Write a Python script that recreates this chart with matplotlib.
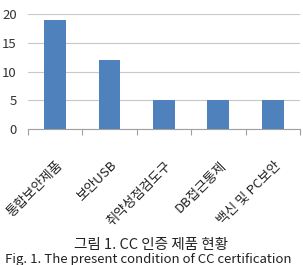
import matplotlib.pyplot as plt
import numpy as np

plt.rcParams["font.family"] = ["Noto Sans CJK KR", "DejaVu Sans"]

categories = ["통합보안제품", "보안USB", "취약성점검도구", "DB접근통제", "백신 및 PC보안"]
counts = [19, 12, 5, 5, 5]
yticks = [0, 5, 10, 15, 20]

fig = plt.figure(figsize=(3.03, 2.65), dpi=100)
ax = fig.add_axes([0.092, 0.513, 0.898, 0.434])

x = np.arange(len(categories))
ax.bar(x, counts, width=0.4, color="#4F81BD", zorder=3)

ax.set_xlim(-0.5, len(categories) - 0.5)
ax.set_ylim(0, 20)
ax.set_yticks(yticks)
ax.set_yticklabels([str(v) for v in yticks], fontsize=9.5, color="#333333")
ax.yaxis.grid(True, color="#C8C8C8", linewidth=0.8, zorder=0)
ax.tick_params(axis="y", length=0, pad=8)

# category separators as ticks on the x axis
ax.set_xticks(np.arange(len(categories) + 1) - 0.5)
ax.set_xticklabels([])
ax.tick_params(axis="x", length=4, color="#A0A0A0", width=0.8)
for i, name in enumerate(categories):
    ax.text(i + 0.02, -5.2, name, rotation=45, ha="right", va="top",
            rotation_mode="anchor", fontsize=9.5, color="#222222")

for side in ["top", "right", "left"]:
    ax.spines[side].set_visible(False)
ax.spines["bottom"].set_color("#A0A0A0")
ax.spines["bottom"].set_linewidth(0.8)

fig.text(0.5, 0.075, "그림 1. CC 인증 제품 현황", ha="center", va="center",
         fontsize=10.5, color="#222222")
fig.text(0.49, 0.022, "Fig. 1. The present condition of CC certification",
         ha="center", va="center", fontsize=9.5, color="#222222")

fig.savefig("out.png", dpi=100)
